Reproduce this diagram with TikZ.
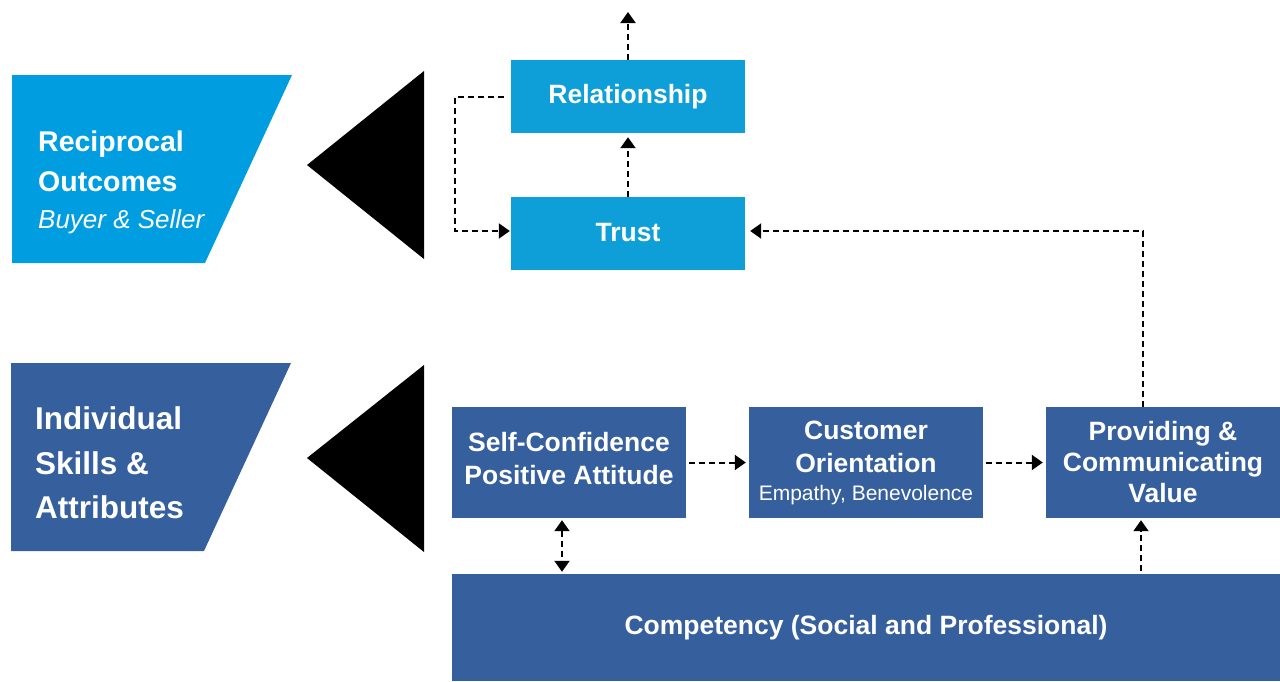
\documentclass[tikz,border=0pt]{standalone}
\usepackage{fontspec}
\setmainfont{Liberation Sans}
\usetikzlibrary{arrows.meta}
\definecolor{lightblue}{HTML}{009EE0}
\definecolor{boxblue}{HTML}{0E9FD8}
\definecolor{darkblue}{HTML}{365F9E}
\tikzset{
  box/.style={fill=#1, text=white, font=\bfseries\fontsize{26.5}{31}\selectfont, align=center, inner sep=0pt, minimum width=234pt},
  conn/.style={line width=2pt, dash pattern=on 6pt off 4pt, -{Triangle[length=11pt,width=15pt]}},
  biconn/.style={line width=2pt, dash pattern=on 6pt off 4pt, {Triangle[length=11pt,width=15pt]}-{Triangle[length=11pt,width=15pt]}},
  sidetext/.style={anchor=west, text=white, align=left, inner sep=0pt},
}
\begin{document}
\begin{tikzpicture}[x=1pt,y=-1pt]
\useasboundingbox (0,0) rectangle (1280,681);
% left labels
\fill[lightblue] (12,75) -- (292,75) -- (205,263) -- (12,263) -- cycle;
\node[sidetext, font=\bfseries\fontsize{28.5}{40}\selectfont] (recip) at (38,182)
  {Reciprocal\\Outcomes\\[-3pt]{\mdseries\itshape\fontsize{26}{30}\selectfont Buyer \& Seller}};
\fill[darkblue] (11,363) -- (291,363) -- (204,551) -- (11,551) -- cycle;
\node[sidetext, font=\bfseries\fontsize{31.5}{44.5}\selectfont] (indiv) at (35,463)
  {Individual\\Skills \&\\Attributes};
% triangles
\fill[black] (307,165) -- (424,71) -- (424,259) -- cycle;
\fill[black] (307,458) -- (424,365) -- (424,552) -- cycle;
% boxes
\node[box=boxblue, minimum height=73pt] (rel) at (628,96.5) {Relationship};
\node[box=boxblue, minimum height=73pt] (trust) at (628,233.5) {\raisebox{3pt}{Trust}};
\node[box=darkblue, minimum height=111pt, font=\bfseries\fontsize{26.5}{33}\selectfont] (self) at (569,462.5) {Self-Confidence\\Positive Attitude\\[-34pt]\strut};
\node[box=darkblue, minimum height=111pt, font=\bfseries\fontsize{26.5}{33}\selectfont] (cust) at (866,462.5)
  {Customer\\Orientation\\[-5pt]{\mdseries\fontsize{21}{25}\selectfont Empathy, Benevolence}};
\node[box=darkblue, minimum height=111pt] (prov) at (1163,462.5) {Providing \&\\Communicating\\Value};
\node[box=darkblue, minimum width=828pt, minimum height=107pt] (comp) at (866,627.5) {Competency (Social and Professional)};
% connectors
\coordinate (top) at (628,12);
\coordinate (lc) at (455,231);
\draw[conn] (rel.north) -- (top);
\draw[conn, shorten >=4pt] (trust.north) -- (rel.south);
\draw[conn, shorten >=1pt] ([xshift=-7pt]rel.west) -| (lc) -- (lc -| trust.west);
\draw[conn, shorten >=5pt] ([xshift=-20pt]prov.north) |- ([yshift=2.5pt]trust.east);
\draw[conn, shorten <=3pt, shorten >=3pt] (self.east) -- (cust.west);
\draw[conn, shorten <=3pt, shorten >=3pt] (cust.east) -- (prov.west);
\draw[biconn, shorten <=2pt, shorten >=2pt] ([xshift=-7pt]self.south) -- ([xshift=-7pt]self.south |- comp.north);
\draw[conn, shorten <=3pt, shorten >=2pt] ([xshift=-22pt]prov.south |- comp.north) -- ([xshift=-22pt]prov.south);
\end{tikzpicture}
\end{document}
